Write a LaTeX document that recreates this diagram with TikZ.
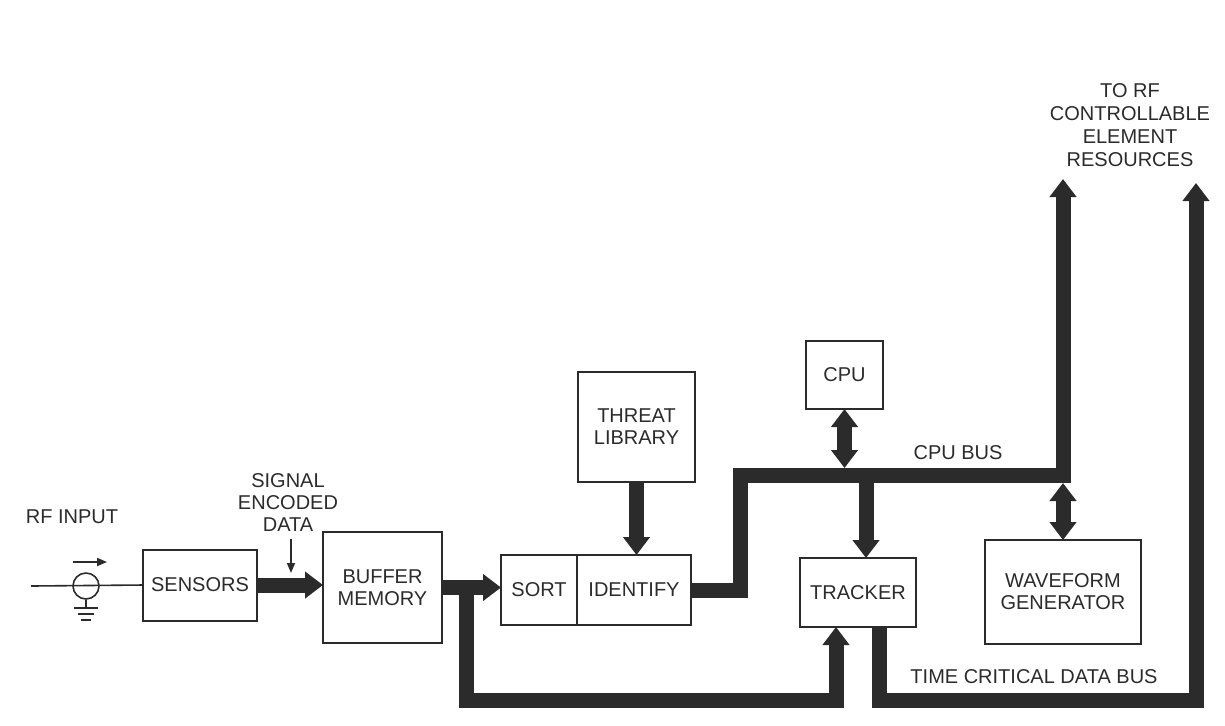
\documentclass[tikz,border=0pt]{standalone}
\usepackage{fontspec}
\setmainfont{Liberation Sans}
\usetikzlibrary{arrows.meta}
\begin{document}
\begin{tikzpicture}[x=0.5pt,y=-0.5pt,
  box/.style={draw=ink, line width=1pt, fill=white, text=ink, inner sep=0pt, outer sep=0pt, align=center, font=\fontsize{10}{11}\selectfont},
  lbl/.style={text=ink, align=center, font=\fontsize{10}{11}\selectfont},
  bus/.style={draw=ink, line width=7.5pt, line join=miter},
  busarrow/.style={bus, -{Triangle[length=9pt,width=13pt]}},
  busboth/.style={bus, {Triangle[length=9pt,width=13pt]}-{Triangle[length=9pt,width=13pt]}},
  wire/.style={draw=ink, line width=0.8pt}]
\definecolor{ink}{HTML}{2B2B2B}
\useasboundingbox (0,0) rectangle (1225,725);
\node[box, minimum width=57pt, minimum height=35.5pt] (sensors) at (200,585) {SENSORS};
\node[box, minimum width=59.5pt, minimum height=55.5pt] (buffer) at (382.5,587.5) {BUFFER\\MEMORY};
\node[box, minimum width=38pt, minimum height=35pt] (sort) at (539,590) {SORT};
\node[box, minimum width=57pt, minimum height=35pt, anchor=west] (identify) at (sort.east) {IDENTIFY};
\node[box, minimum width=58.5pt, minimum height=55pt] (threat) at (636.5,427) {THREAT\\LIBRARY};
\node[box, minimum width=38.5pt, minimum height=34pt] (cpu) at (844.5,375) {CPU};
\node[box, minimum width=58pt, minimum height=34.5pt] (tracker) at (858,592.5) {TRACKER};
\node[box, minimum width=78pt, minimum height=52pt] (wave) at (1063,592) {WAVEFORM\\GENERATOR};
\node[lbl] (rfinput) at (72,517) {RF INPUT};
\node[lbl] (sig) at (288,503) {SIGNAL\\ENCODED\\DATA};
\node[lbl] (cpubuslbl) at (958,453) {CPU BUS};
\node[lbl] (tcbus) at (1034,677) {TIME CRITICAL DATA BUS};
\node[lbl, font=\fontsize{10}{11.5}\selectfont] (torf) at (1130,125) {TO RF\\CONTROLLABLE\\ELEMENT\\RESOURCES};
\node[circle, wire, minimum size=13pt, inner sep=0pt] (probe) at (86,586) {};
\coordinate (rfin) at (31,586);
\coordinate (dirA) at (73,562);
\coordinate (dirB) at (107,562);
\coordinate (sigend) at (291,573);
\coordinate (rfA) at (1063,179);
\coordinate (rfB) at (1196,183);
\coordinate (cpubus) at (740,475);
\coordinate (tap1) at (866,475);
\coordinate (cpuin) at (844.5,468);
\coordinate (wavein) at (1063,483);
\coordinate (tap2) at (466,587.5);
\coordinate (lowL) at (836,700);
\coordinate (lowR) at (879,700);
\draw[wire] (rfin) -- (sensors.west);
\draw[wire, -{Triangle[length=5pt,width=4pt]}] (dirA) -- (dirB);
\draw[wire] (probe.south) -- ++(0,9);
\draw[wire] (74,608) -- (98,608);
\draw[wire] (78,614) -- (94,614);
\draw[wire] (81,620) -- (91,620);
\draw[busarrow] (sensors.east) -- (sensors.east -| buffer.west);
\draw[wire, -{Triangle[length=5pt,width=4pt]}] (sigend |- sig.south) -- (sigend);
\draw[busarrow] (buffer.east) -- (buffer.east -| sort.west);
\draw[busarrow] (tap2) |- (lowL) -- (lowL |- tracker.south);
\draw[busarrow] (threat.south) -- (threat.south |- identify.north);
\draw[busarrow] (identify.east) -| (cpubus) -| (rfA);
\draw[busarrow] (tap1) -- (tap1 |- tracker.north);
\draw[busboth] (cpu.south) -- (cpuin);
\draw[busboth] (wavein) -- (wave.north);
\draw[busarrow] (lowR |- tracker.south) -- (lowR) -| (rfB);
\end{tikzpicture}
\end{document}
